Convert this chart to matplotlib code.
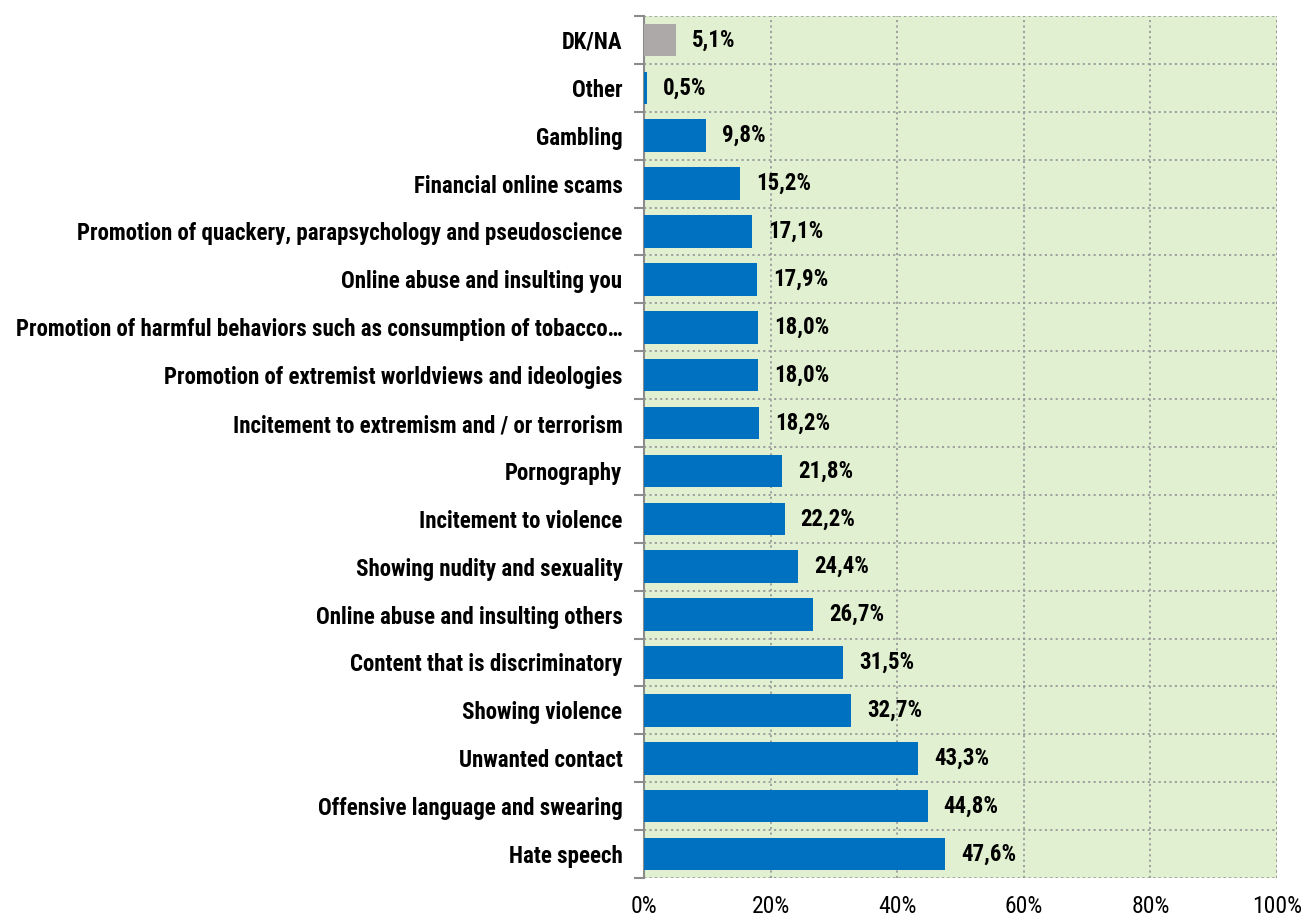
import matplotlib
matplotlib.use("Agg")
import matplotlib.pyplot as plt
import numpy as np
from matplotlib.ticker import FixedLocator, MultipleLocator, FuncFormatter

categories = [
    "Hate speech",
    "Offensive language and swearing",
    "Unwanted contact",
    "Showing violence",
    "Content that is discriminatory",
    "Online abuse and insulting others",
    "Showing nudity and sexuality",
    "Incitement to violence",
    "Pornography",
    "Incitement to extremism and / or terrorism",
    "Promotion of extremist worldviews and ideologies",
    "Promotion of harmful behaviors such as consumption of tobacco\u2026",
    "Online abuse and insulting you",
    "Promotion of quackery, parapsychology and pseudoscience",
    "Financial online scams",
    "Gambling",
    "Other",
    "DK/NA",
]
values = [47.6, 44.8, 43.3, 32.7, 31.5, 26.7, 24.4, 22.2, 21.8, 18.2, 18.0, 18.0, 17.9, 17.1, 15.2, 9.8, 0.5, 5.1]
value_labels = ["47,6%", "44,8%", "43,3%", "32,7%", "31,5%", "26,7%", "24,4%", "22,2%", "21,8%",
                "18,2%", "18,0%", "18,0%", "17,9%", "17,1%", "15,2%", "9,8%", "0,5%", "5,1%"]
colors = ["#0070C0"] * 17 + ["#ADA9A9"]

FAM = ["Roboto Condensed", "Liberation Sans", "DejaVu Sans"]
plt.rcParams["font.family"] = FAM

fig = plt.figure(figsize=(13.02, 9.18), dpi=100)
ax = fig.add_axes([0.4946, 0.0436, 0.4862, 0.939])
ax.set_facecolor("#E1F0D0")

y = np.arange(len(categories))
ax.barh(y, values, height=0.68, color=colors, zorder=3)

for yi, v, lab in zip(y, values, value_labels):
    ax.annotate(lab, xy=(v, yi), xytext=(11.5, 0), textcoords="offset points",
                va="center", ha="left", fontsize=16.5, fontweight="bold", zorder=4)

ax.set_xlim(0, 100)
ax.set_ylim(-0.5, len(categories) - 0.5)

ax.xaxis.set_major_locator(MultipleLocator(20))
ax.xaxis.set_major_formatter(FuncFormatter(lambda v, p: f"{int(v)}%"))
ax.tick_params(axis="x", length=0, labelsize=17, pad=12)

ax.set_yticks(y)
ax.set_yticklabels(categories, fontsize=16.5, fontweight="bold")
ax.tick_params(axis="y", which="major", length=0, pad=15.5)
ax.yaxis.set_minor_locator(FixedLocator(np.arange(-0.5, len(categories), 1.0)))
ax.tick_params(axis="y", which="minor", length=7, color="#8C8C8C", width=1.5)

ax.grid(axis="x", which="major", color="#9A9A9A", linestyle=(0, (1.2, 1.8)), linewidth=1.3, zorder=1)
ax.grid(axis="y", which="minor", color="#9A9A9A", linestyle=(0, (1.2, 1.8)), linewidth=1.3, zorder=1)
ax.grid(axis="y", which="major", visible=False)

for s in ["top", "right", "bottom"]:
    ax.spines[s].set_visible(False)
ax.spines["left"].set_color("#8C8C8C")
ax.spines["left"].set_linewidth(1.5)
ax.axvline(100, color="#9A9A9A", linestyle=(0, (1.2, 1.8)), linewidth=1.3, zorder=1)

fig.savefig("out.png", dpi=100)
